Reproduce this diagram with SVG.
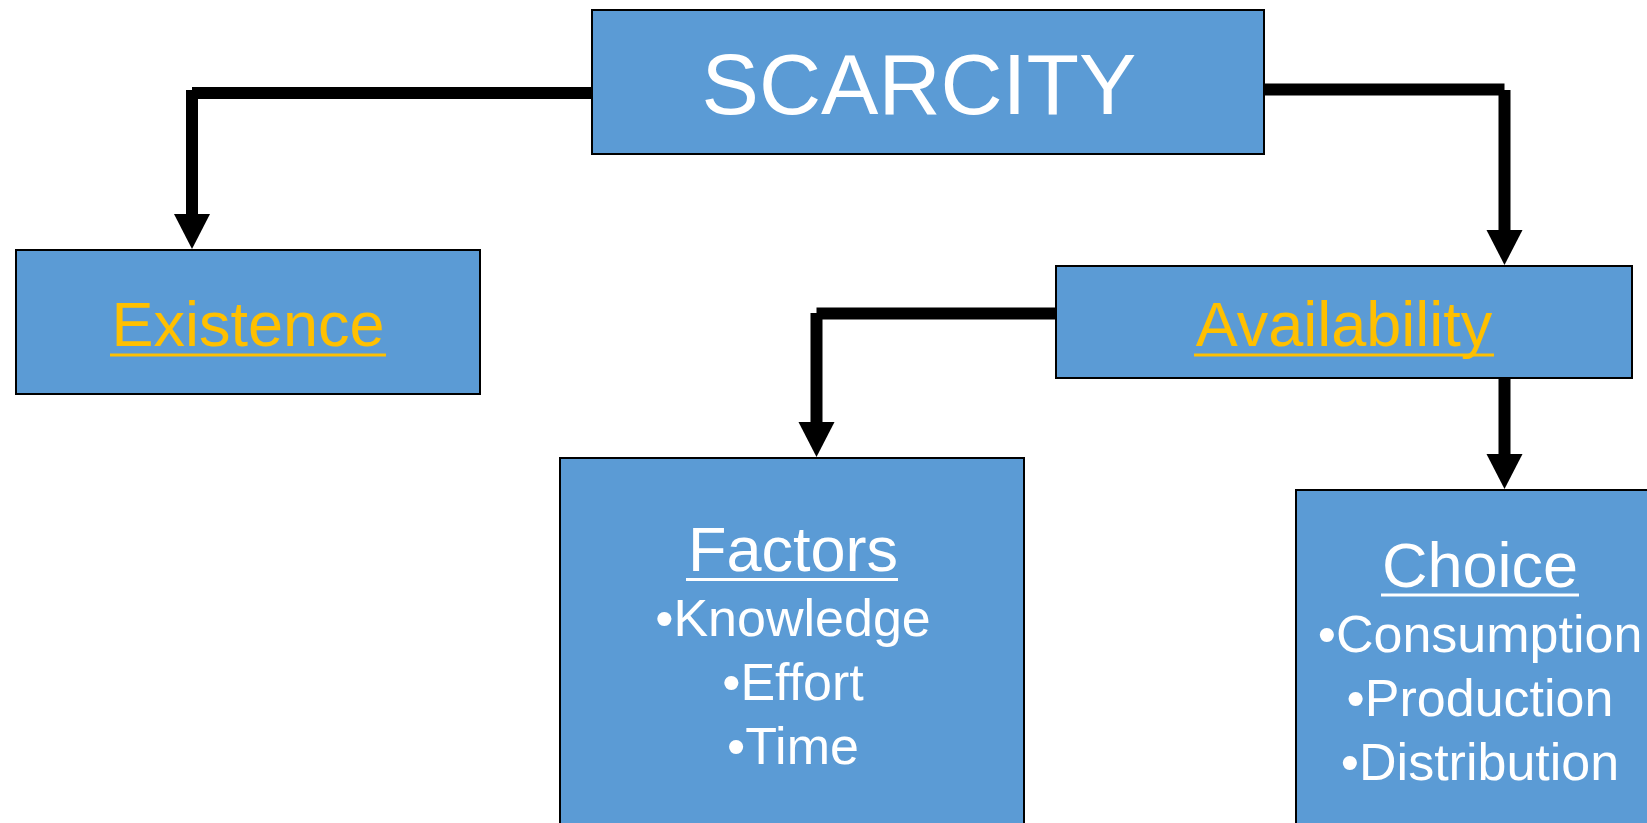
<svg xmlns="http://www.w3.org/2000/svg" width="1647" height="823" viewBox="0 0 1647 823">
<style>
.box{fill:#5B9BD5;stroke:#000;stroke-width:2}
.t{font-family:"Liberation Sans",Arial,sans-serif;text-anchor:middle}
.w{fill:#fff}
.y{fill:#FFC000}
.h{font-size:63px}
.b{font-size:52px}
.ulw{stroke:#fff;stroke-width:3}
.uly{stroke:#FFC000;stroke-width:3}
.c{fill:none;stroke:#000;stroke-width:12}
</style>
<defs>
<marker id="ah" markerUnits="userSpaceOnUse" markerWidth="36" markerHeight="37" refX="0" refY="18" orient="auto" viewBox="0 0 36 36">
<path d="M0,0 L35,18 L0,36 z" fill="#000"/>
</marker>
</defs>
<g id="connectors">
<path class="c" d="M592,93 H192 M192,90 V214" marker-end="url(#ah)"/>
<path class="c" d="M1264,89.5 H1504.5 M1504.5,90 V230" marker-end="url(#ah)"/>
<path class="c" d="M1056,313.5 H816.5 M816.5,313 V422" marker-end="url(#ah)"/>
<path class="c" d="M1504.5,378 V454" marker-end="url(#ah)"/>
</g>
<g id="scarcity">
<rect class="box" x="592" y="10" width="672" height="144"/>
<text class="t w" x="919" y="114" font-size="86">SCARCITY</text>
</g>
<g id="existence">
<rect class="box" x="16" y="250" width="464" height="144"/>
<text class="t y h" x="248" y="346">Existence</text>
<line class="uly" x1="110" y1="355" x2="386" y2="355"/>
</g>
<g id="availability">
<rect class="box" x="1056" y="266" width="576" height="112"/>
<text class="t y h" x="1344" y="346">Availability</text>
<line class="uly" x1="1194" y1="355" x2="1494" y2="355"/>
</g>
<g id="factors">
<rect class="box" x="560" y="458" width="464" height="380"/>
<text class="t w h" x="793" y="571">Factors</text>
<line class="ulw" x1="686" y1="579.5" x2="898" y2="579.5"/>
<text class="t w b" x="793" y="636">•Knowledge</text>
<text class="t w b" x="793" y="700">•Effort</text>
<text class="t w b" x="793" y="764">•Time</text>
</g>
<g id="choice">
<rect class="box" x="1296" y="490" width="368" height="350"/>
<text class="t w h" x="1480" y="587">Choice</text>
<line class="ulw" x1="1381" y1="595" x2="1579" y2="595"/>
<text class="t w b" x="1480" y="652">•Consumption</text>
<text class="t w b" x="1480" y="716">•Production</text>
<text class="t w b" x="1480" y="780">•Distribution</text>
</g>
</svg>
